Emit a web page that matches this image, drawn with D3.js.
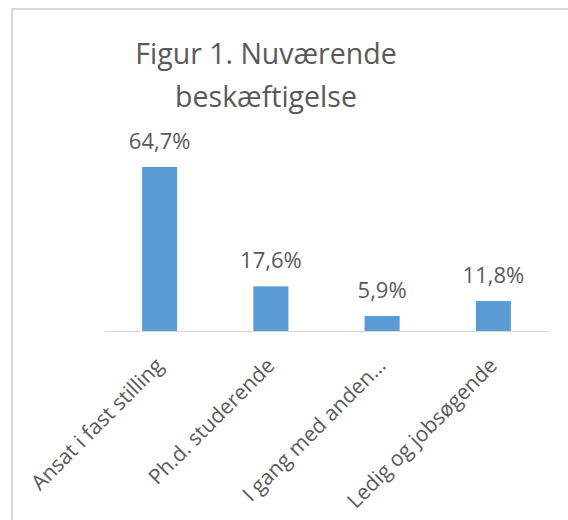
<!DOCTYPE html>
<html>
<head>
<meta charset="utf-8">
<script src="https://cdn.jsdelivr.net/npm/d3@7"></script>
<style>
  html, body { margin: 0; padding: 0; background: #fff; }
  svg { display: block; }
</style>
</head>
<body>
<svg id="chart" width="568" height="520"></svg>
<script>
// data
const categories = ['Ansat i fast stilling', 'Ph.d. studerende', 'I gang med anden\u2026', 'Ledig og jobsøgende'];
const values = [64.7, 17.6, 5.9, 11.8];
const valueLabels = ['64,7%', '17,6%', '5,9%', '11,8%'];
const titleLines = ['Figur 1. Nuværende', 'beskæftigelse'];

const width = 568;
const height = 520;
const textColor = '#595959';
const fontFamily = '"Open Sans", Lato, sans-serif';

const plot = { left: 104, right: 549, top: 153.5, bottom: 331 };

const svg = d3.select('#chart');

// chart border (the right edge is cut off in the picture)
svg.append('rect')
    .attr('x', 12)
    .attr('y', 9)
    .attr('width', width + 20)
    .attr('height', height + 20)
    .attr('fill', '#fff')
    .attr('stroke', '#d9d9d9')
    .attr('stroke-width', 2);

const x = d3.scaleBand()
    .domain(categories)
    .range([plot.left, plot.right])
    .paddingInner(0.685)
    .paddingOuter(0.3425);

const y = d3.scaleLinear()
    .domain([0, 70])
    .range([plot.bottom, plot.top]);

// title
svg.append('text')
    .attr('text-anchor', 'middle')
    .attr('font-family', fontFamily)
    .attr('font-size', 28.5)
    .attr('fill', textColor)
    .selectAll('tspan')
    .data(titleLines)
    .join('tspan')
    .attr('x', 266)
    .attr('y', (d, i) => 64 + i * 43)
    .text(d => d);

// bars
svg.append('g')
    .selectAll('rect')
    .data(values)
    .join('rect')
    .attr('x', (d, i) => x(categories[i]))
    .attr('width', x.bandwidth())
    .attr('y', d => y(d))
    .attr('height', d => y(0) - y(d))
    .attr('fill', '#5b9bd5');

// baseline
const xAxis = d3.axisBottom(x).tickSize(0).tickFormat('');
const gAxis = svg.append('g')
    .attr('transform', `translate(0,${y(0)})`)
    .call(xAxis);
gAxis.select('.domain').attr('stroke', '#d9d9d9').attr('stroke-width', 1);

// value labels
svg.append('g')
    .selectAll('text')
    .data(values)
    .join('text')
    .attr('x', (d, i) => x(categories[i]) + x.bandwidth() / 2)
    .attr('y', d => y(d) - 18)
    .attr('text-anchor', 'middle')
    .attr('font-family', fontFamily)
    .attr('font-size', 22)
    .attr('fill', textColor)
    .text((d, i) => valueLabels[i]);

// category labels, rotated
svg.append('g')
    .selectAll('text')
    .data(categories)
    .join('text')
    .attr('transform', d => `translate(${x(d) + x.bandwidth() / 2 + 5},367) rotate(-45)`)
    .attr('text-anchor', 'end')
    .attr('font-family', fontFamily)
    .attr('font-size', 21)
    .attr('fill', textColor)
    .text(d => d);
</script>
</body>
</html>
